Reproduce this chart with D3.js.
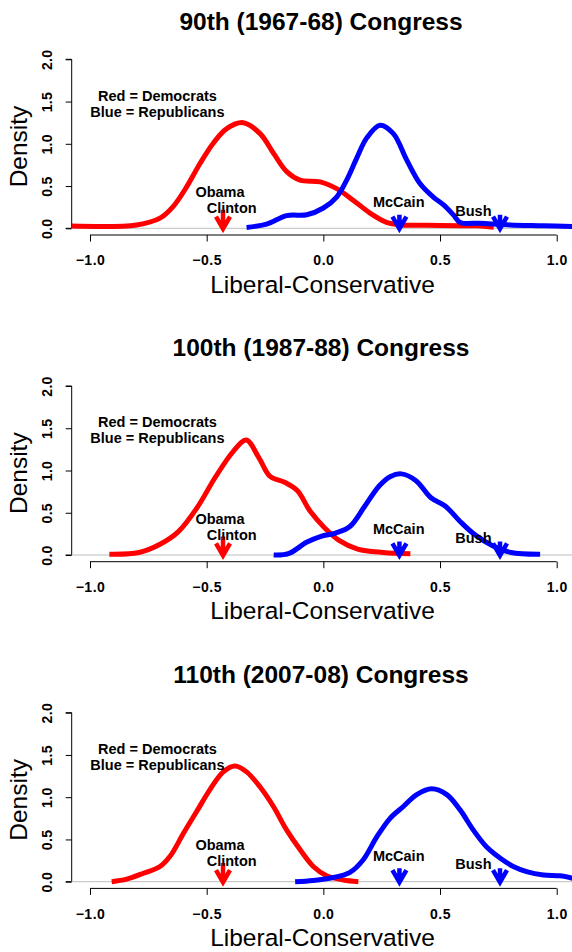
<!DOCTYPE html>
<html>
<head>
<meta charset="utf-8">
<script src="https://cdn.jsdelivr.net/npm/d3@7"></script>
<style>
  html, body { margin: 0; padding: 0; background: #fff; }
  svg { display: block; }
  text { font-family: "Liberation Sans", Arial, Helvetica, sans-serif; }
</style>
</head>
<body>
<svg id="chart" width="572" height="952"></svg>
<script>
// ---- data ----
const titles = ["90th (1967-68) Congress", "100th (1987-88) Congress", "110th (2007-08) Congress"];
const xTicks = [-1.0, -0.5, 0.0, 0.5, 1.0];
const yTicks = [0.0, 0.5, 1.0, 1.5, 2.0];

// Democrats (red) density curves  [ideal point, density]
const dem90 = [[-1.08,0.027],[-0.80,0.04],[-0.70,0.12],[-0.643,0.26],[-0.586,0.49],[-0.528,0.77],[-0.471,1.01],
  [-0.414,1.18],[-0.343,1.25],[-0.271,1.12],[-0.214,0.89],[-0.157,0.67],[-0.10,0.57],[-0.014,0.55],[0.057,0.47],
  [0.129,0.33],[0.20,0.18],[0.271,0.07],[0.329,0.04],[0.443,0.035],[0.586,0.03],[0.66,0.03],[0.73,0.012]];
const dem100 = [[-0.917,0.01],[-0.79,0.03],[-0.698,0.13],[-0.62,0.28],[-0.541,0.56],[-0.463,0.92],[-0.385,1.23],
  [-0.33,1.36],[-0.276,1.15],[-0.228,0.93],[-0.166,0.86],[-0.111,0.76],[-0.057,0.52],[0.006,0.32],[0.069,0.17],
  [0.147,0.07],[0.256,0.03],[0.373,0.015]];
const dem110 = [[-0.907,0.0],[-0.843,0.03],[-0.771,0.10],[-0.70,0.18],[-0.657,0.30],[-0.60,0.57],[-0.543,0.83],
  [-0.486,1.09],[-0.429,1.30],[-0.378,1.37],[-0.329,1.30],[-0.271,1.12],[-0.214,0.89],[-0.157,0.61],[-0.10,0.38],
  [-0.043,0.18],[0.014,0.07],[0.086,0.02],[0.15,0.0]];

// Republicans (blue) density curves
const rep90 = [[-0.329,0.01],[-0.243,0.05],[-0.157,0.15],[-0.071,0.16],[0.0,0.24],[0.057,0.37],[0.10,0.57],
  [0.143,0.83],[0.186,1.07],[0.243,1.22],[0.30,1.12],[0.357,0.81],[0.414,0.53],[0.471,0.37],[0.514,0.28],
  [0.557,0.16],[0.586,0.07],[0.671,0.06],[0.80,0.04],[0.943,0.03],[1.07,0.02]];
const rep100 = [[-0.213,0.0],[-0.15,0.015],[-0.072,0.15],[-0.01,0.22],[0.053,0.26],[0.115,0.34],[0.178,0.58],
  [0.24,0.82],[0.288,0.93],[0.334,0.96],[0.397,0.88],[0.46,0.68],[0.522,0.58],[0.585,0.40],[0.647,0.245],
  [0.725,0.11],[0.804,0.03],[0.929,0.01]];
const rep110 = [[-0.121,0.0],[-0.043,0.015],[0.043,0.05],[0.114,0.11],[0.171,0.26],[0.229,0.53],[0.286,0.75],
  [0.343,0.89],[0.40,1.03],[0.464,1.10],[0.529,1.03],[0.586,0.85],[0.643,0.61],[0.70,0.41],[0.757,0.28],
  [0.814,0.18],[0.871,0.12],[0.943,0.08],[1.014,0.07],[1.07,0.04]];

const demSeries = [dem90, dem100, dem110];
const repSeries = [rep90, rep100, rep110];

// candidate arrows: x position, arrow start (density units), colour group
const arrowNames = ["Obama/Clinton", "McCain", "Bush"];
const arrowX     = [-0.43, 0.326, 0.757];
const arrowTop   = [0.22, 0.16, 0.16];
const arrowParty = ["dem", "rep", "rep"];

// candidate labels (data coordinates of text centre/baseline)
const labelText = ["Obama", "Clinton", "McCain", "Bush"];
const labelX    = [-0.443, -0.393, 0.323, 0.643];
const labelY    = [0.37, 0.18, 0.25, 0.145];

// legend text
const legendText = ["Red = Democrats", "Blue = Republicans"];
const legendX = -0.711;
const legendY = [1.51, 1.32];

// ---- drawing ----
const svg = d3.select("#chart");
const RED = "#ff0000", BLUE = "#0000ff";
const panelStep = 326.7;
const x = d3.scaleLinear().domain([-1, 1]).range([90, 556.7]);
const y = d3.scaleLinear().domain([0, 2]).range([228.3, 59.3]);
const plotLeft = 71.7, plotRight = 572, plotTop = 40, plotBottom = 232;

svg.append("defs").append("clipPath").attr("id", "plotclip")
  .append("rect").attr("x", plotLeft).attr("y", plotTop)
  .attr("width", plotRight - plotLeft).attr("height", plotBottom - plotTop);

const line = d3.line().x(d => x(d[0])).y(d => y(d[1])).curve(d3.curveCatmullRom.alpha(0.5));

titles.forEach((t, i) => {
  const g = svg.append("g").attr("transform", `translate(0,${i * panelStep})`);

  // title
  g.append("text").attr("x", 321).attr("y", 29.5).attr("text-anchor", "middle")
    .attr("font-size", 24.5).attr("font-weight", "bold").attr("fill", "#000").text(t);

  // y axis
  const yAxis = d3.axisLeft(y).tickValues(yTicks).tickFormat(d3.format(".1f")).tickSize(6).tickPadding(3);
  const ya = g.append("g").attr("transform", `translate(${plotLeft},0)`).call(yAxis);
  ya.select(".domain").attr("d", `M-6,${y(2)}H0V${y(0)}H-6`).attr("stroke", "#000");
  ya.selectAll(".tick line").attr("stroke", "#000");
  ya.selectAll(".tick text")
    .attr("transform", "rotate(-90)")
    .attr("x", 0).attr("y", -20).attr("dy", "0")
    .attr("text-anchor", "middle")
    .attr("font-size", 14).attr("font-weight", "bold").attr("fill", "#000")
    .attr("letter-spacing", "0.3px")
    .style("font-family", "'Liberation Sans', Arial, sans-serif");

  // x axis
  const xAxis = d3.axisBottom(x).tickValues(xTicks).tickFormat(d3.format(".1f")).tickSize(6.5).tickPadding(14);
  const xa = g.append("g").attr("transform", "translate(0,235)").call(xAxis);
  xa.select(".domain").attr("d", `M${x(-1)},0H${x(1)}`).attr("stroke", "#000");
  xa.selectAll(".tick line").attr("stroke", "#000");
  xa.selectAll(".tick text").attr("font-size", 14).attr("font-weight", "bold").attr("fill", "#000")
    .attr("letter-spacing", "0.5px")
    .style("font-family", "'Liberation Sans', Arial, sans-serif");

  // axis titles
  g.append("text").attr("x", 322.5).attr("y", 292.5).attr("text-anchor", "middle")
    .attr("font-size", 24.5).attr("fill", "#000").text("Liberal-Conservative");
  g.append("text").attr("transform", `translate(27,146.5) rotate(-90)`).attr("text-anchor", "middle")
    .attr("font-size", 24.5).attr("fill", "#000").text("Density");

  // zero reference line
  g.append("line").attr("x1", plotLeft).attr("x2", plotRight).attr("y1", y(0)).attr("y2", y(0))
    .attr("stroke", "#bdbdbd").attr("stroke-width", 1);

  const pg = g.append("g").attr("clip-path", "url(#plotclip)");
  pg.append("path").datum(demSeries[i]).attr("d", line).attr("fill", "none")
    .attr("stroke", RED).attr("stroke-width", 5).attr("stroke-linejoin", "round");
  pg.append("path").datum(repSeries[i]).attr("d", line).attr("fill", "none")
    .attr("stroke", BLUE).attr("stroke-width", 5).attr("stroke-linejoin", "round");

  // arrows
  arrowX.forEach((ax, k) => {
    const col = arrowParty[k] === "dem" ? RED : BLUE;
    const px = x(ax), top = y(arrowTop[k]), tip = y(0) + 0.5;
    const L = 14, ang = Math.PI / 6;
    g.append("path")
      .attr("d", `M${px},${top}L${px},${tip}M${px - L * Math.sin(ang)},${tip - L * Math.cos(ang)}L${px},${tip}L${px + L * Math.sin(ang)},${tip - L * Math.cos(ang)}`)
      .attr("fill", "none").attr("stroke", col).attr("stroke-width", 4.5).attr("stroke-linejoin", "miter");
  });

  // labels
  labelText.forEach((lt, k) => {
    g.append("text").attr("x", x(labelX[k])).attr("y", y(labelY[k])).attr("text-anchor", "middle")
      .attr("font-size", 14.5).attr("font-weight", "bold").attr("fill", "#000").text(lt);
  });

  // legend
  legendText.forEach((lt, k) => {
    g.append("text").attr("x", x(legendX)).attr("y", y(legendY[k])).attr("text-anchor", "middle")
      .attr("font-size", 14.5).attr("font-weight", "bold").attr("fill", "#000").text(lt);
  });
});
</script>
</body>
</html>
